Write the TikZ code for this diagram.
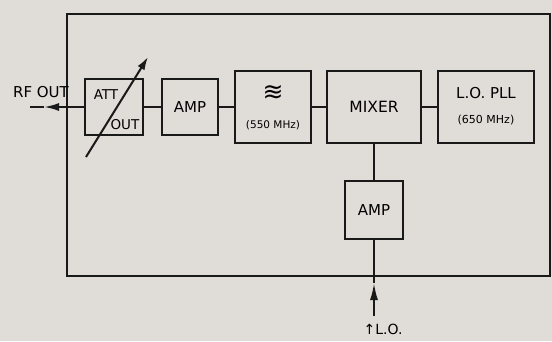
\documentclass[tikz,border=0pt]{standalone}
\usepackage{fontspec}
\setmainfont{DejaVu Sans}
\usetikzlibrary{arrows.meta}
\definecolor{paper}{RGB}{224,221,216}
\definecolor{ink}{RGB}{25,25,25}
\tikzset{
  blk/.style={draw=ink, line width=2pt, rectangle, inner sep=0pt, font=\fontsize{15}{17}\selectfont},
  wire/.style={draw=ink, line width=2pt},
  small/.style={inner sep=0pt, font=\fontsize{10.5}{12}\selectfont},
  lbl/.style={inner sep=0pt, font=\fontsize{15}{17}\selectfont},
}
\begin{document}
\begin{tikzpicture}[x=1pt,y=-1pt]
\fill[paper] (0,0) rectangle (552,341);
\useasboundingbox (0,0) rectangle (552,341);
\node[draw=ink, line width=2pt, rectangle, inner sep=0pt, minimum width=483pt, minimum height=262pt] (frame) at (308.5,145) {};
\node[blk, minimum width=58pt, minimum height=56pt] (att) at (114,107) {};
\node[lbl, font=\fontsize{13.5}{15}\selectfont, anchor=center] (attt) at (106,95) {ATT};
\node[lbl, font=\fontsize{13.5}{15}\selectfont, anchor=center] (atto) at (125,125) {OUT};
\node[blk, minimum width=56pt, minimum height=56pt] (amp1) at (190,107) {AMP};
\node[blk, minimum width=76pt, minimum height=72pt] (filt) at (273,107) {};
\node[inner sep=0pt, font=\fontsize{25}{27}\selectfont] (wave) at (273,93) {≋};
\node[small] (f1) at (273,125) {(550 MHz)};
\node[blk, minimum width=94pt, minimum height=72pt, font=\fontsize{15.5}{17}\selectfont] (mix) at (374,107) {MIXER};
\node[blk, minimum width=96pt, minimum height=72pt] (pll) at (486,107) {};
\node[lbl] (pllt) at (486,93) {L.O. PLL};
\node[small, font=\fontsize{11}{12}\selectfont] (pllf) at (486,120) {(650 MHz)};
\node[blk, minimum width=58pt, minimum height=58pt] (amp2) at (374,210) {AMP};
% connectors
\draw[wire] (att.west -| frame.west) -- (att.west);
\draw[wire] (att) -- (amp1);
\draw[wire] (amp1) -- (filt);
\draw[wire] (filt) -- (mix);
\draw[wire] (mix) -- (pll);
\draw[wire] (mix) -- (amp2);
\draw[wire] (amp2) -- (amp2 |- frame.south);
% RF OUT arrow
\coordinate (rftip) at (44,107);
\coordinate (rfend) at (30,107);
\draw[wire, -{Latex[length=15pt,width=8pt]}] (att.west -| frame.west) -- (rftip);
\draw[wire] (rftip) -- (rfend);
\node[lbl, anchor=base] (rf) at (41,97) {RF OUT};
% L.O. input arrow
\coordinate (lotip) at (374,283);
\coordinate (loend) at (374,316);
\draw[wire, -{Latex[length=17pt,width=8pt]}] (loend) -- (lotip);
\draw[wire] (lotip) -- (amp2 |- frame.south);
\node[lbl, font=\fontsize{14}{16}\selectfont, anchor=base] (lo) at (383,334) {↑L.O.};
% attenuator arrow
\coordinate (vs) at (86,157);
\coordinate (ve) at (148,57);
\draw[wire, -{Latex[length=13pt,width=8pt]}] (vs) -- (ve);
\end{tikzpicture}
\end{document}
